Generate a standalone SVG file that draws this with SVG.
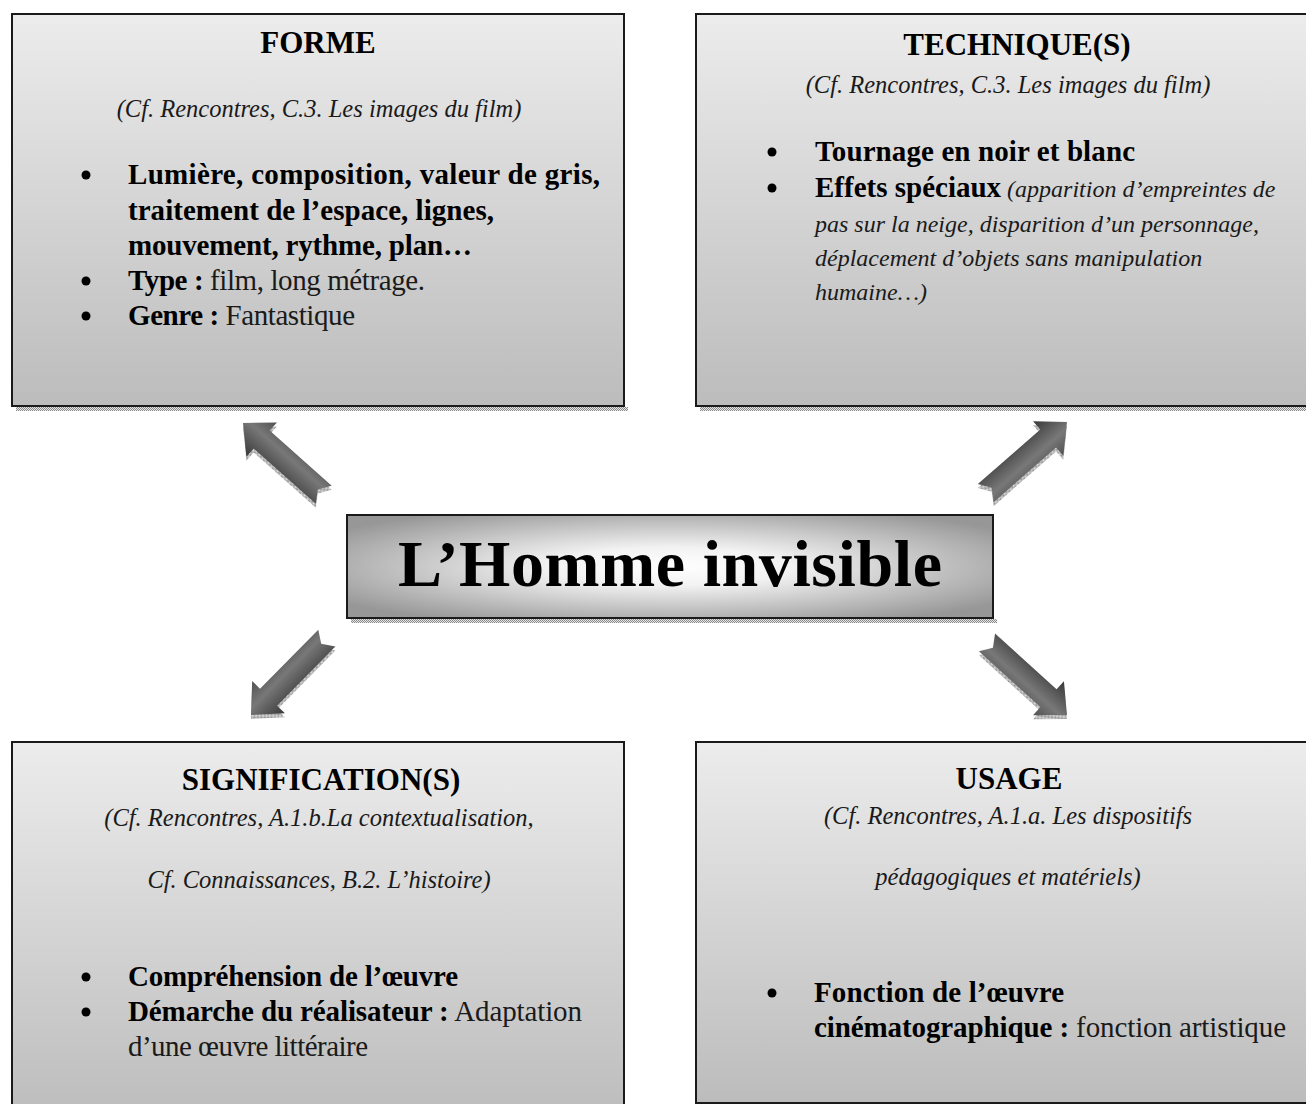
<svg xmlns="http://www.w3.org/2000/svg" width="1306" height="1104" viewBox="0 0 1306 1104">
<defs>
<linearGradient id="boxGrad" x1="0" y1="0" x2="0" y2="1">
<stop offset="0" stop-color="#ececec"/>
<stop offset="1" stop-color="#bcbcbc"/>
</linearGradient>
<radialGradient id="centerGrad" cx="0.5" cy="0.5" r="0.62">
<stop offset="0" stop-color="#ffffff"/>
<stop offset="0.3" stop-color="#f2f2f2"/>
<stop offset="1" stop-color="#979797"/>
</radialGradient>
<linearGradient id="arrowGrad" gradientUnits="userSpaceOnUse" x1="0" y1="-23" x2="0" y2="23">
<stop offset="0" stop-color="#383838"/>
<stop offset="0.6" stop-color="#787878"/>
<stop offset="1" stop-color="#505050"/>
</linearGradient>
<pattern id="stipple" width="2" height="2" patternUnits="userSpaceOnUse">
<rect width="2" height="2" fill="#e6e6e6"/>
<rect width="1" height="1" fill="#8a8a8a"/>
<rect x="1" y="1" width="1" height="1" fill="#8a8a8a"/>
</pattern>
<path id="arrowShape" d="M0,0 L-25,-23 L-25,-12 L-108,-12 L-100,0 L-108,12 L-25,12 L-25,23 Z"/>
</defs>
<style>
.box{fill:url(#boxGrad);stroke:#1a1a1a;stroke-width:2}
.shadow{fill:url(#stipple)}
.title{font-family:"Liberation Serif","Times New Roman",serif;font-weight:bold;font-size:31px;fill:#000;text-anchor:middle}
.ref{font-family:"Liberation Serif","Times New Roman",serif;font-style:italic;font-size:24.5px;fill:#1a1a1a;text-anchor:middle}
.body{font-family:"Liberation Serif","Times New Roman",serif;font-size:29px;fill:#000}
.b{font-weight:bold}
.it{font-style:italic;fill:#1a1a1a;font-size:24px}
.n{fill:#1a1a1a}
.bullet{fill:#000}
.arrow{fill:url(#arrowGrad)}
.arrowShadow{fill:url(#stipple)}
.main{font-family:"Liberation Serif","Times New Roman",serif;font-weight:bold;font-size:66px;fill:#000;text-anchor:middle}
</style>
<rect width="1306" height="1104" fill="#ffffff"/>

<g id="connectors">
<g transform="translate(243,427) rotate(-138.4)"><use href="#arrowShape" class="arrowShadow"/></g>
<g transform="translate(243,423) rotate(-138.4)"><use href="#arrowShape" class="arrow"/></g>
<g transform="translate(1067,426) rotate(-41.2)"><use href="#arrowShape" class="arrowShadow"/></g>
<g transform="translate(1067,422) rotate(-41.2)"><use href="#arrowShape" class="arrow"/></g>
<g transform="translate(251,719) rotate(134.6)"><use href="#arrowShape" class="arrowShadow"/></g>
<g transform="translate(251,715) rotate(134.6)"><use href="#arrowShape" class="arrow"/></g>
<g transform="translate(1067,719) rotate(42.2)"><use href="#arrowShape" class="arrowShadow"/></g>
<g transform="translate(1067,715) rotate(42.2)"><use href="#arrowShape" class="arrow"/></g>
</g>

<g id="forme">
<rect class="shadow" x="16" y="407" width="612" height="4"/>
<rect class="box" x="12" y="14" width="612" height="392"/>
<text class="title" x="318" y="53" font-size="29">FORME</text>
<text class="ref" x="319" y="117">(Cf. Rencontres, C.3. Les images du film)</text>
<circle class="bullet" cx="86" cy="175" r="4.5"/>
<circle class="bullet" cx="86" cy="281" r="4.5"/>
<circle class="bullet" cx="86" cy="316" r="4.5"/>
<text class="body b" x="128" y="184" textLength="472">Lumière, composition, valeur de gris,</text>
<text class="body b" x="128" y="220" textLength="366">traitement de l’espace, lignes,</text>
<text class="body b" x="128" y="255" textLength="344">mouvement, rythme, plan…</text>
<text class="body" x="128" y="290" textLength="297"><tspan class="b">Type :</tspan><tspan class="n"> film, long métrage.</tspan></text>
<text class="body" x="128" y="325" textLength="227"><tspan class="b">Genre :</tspan><tspan class="n"> Fantastique</tspan></text>
</g>

<g id="technique">
<rect class="shadow" x="700" y="407" width="610" height="4"/>
<rect class="box" x="696" y="14" width="616" height="392"/>
<text class="title" x="1017" y="55" font-size="32">TECHNIQUE(S)</text>
<text class="ref" x="1008" y="93">(Cf. Rencontres, C.3. Les images du film)</text>
<circle class="bullet" cx="772" cy="152" r="4.5"/>
<circle class="bullet" cx="772" cy="188" r="4.5"/>
<text class="body b" x="815" y="161" textLength="320">Tournage en noir et blanc</text>
<text class="body" x="815" y="197"><tspan class="b">Effets spéciaux</tspan><tspan class="it"> (apparition d’empreintes de</tspan></text>
<text class="body it" x="815" y="232">pas sur la neige, disparition d’un personnage,</text>
<text class="body it" x="815" y="266">déplacement d’objets sans manipulation</text>
<text class="body it" x="815" y="300">humaine…)</text>
</g>

<g id="center">
<rect class="shadow" x="351" y="619" width="646" height="4"/>
<rect x="347" y="515" width="646" height="103" fill="url(#centerGrad)" stroke="#1a1a1a" stroke-width="2"/>
<text class="main" x="670" y="586" textLength="544">L’Homme invisible</text>
</g>

<g id="signification">
<rect class="box" x="12" y="742" width="612" height="380"/>
<text class="title" x="321" y="790" font-size="32">SIGNIFICATION(S)</text>
<text class="ref" x="319" y="826">(Cf. Rencontres, A.1.b.La contextualisation,</text>
<text class="ref" x="319" y="888">Cf. Connaissances, B.2. L’histoire)</text>
<circle class="bullet" cx="86" cy="977" r="4.5"/>
<circle class="bullet" cx="86" cy="1012" r="4.5"/>
<text class="body b" x="128" y="986" textLength="330">Compréhension de l’œuvre</text>
<text class="body" x="128" y="1021" textLength="454"><tspan class="b">Démarche du réalisateur :</tspan><tspan class="n"> Adaptation</tspan></text>
<text class="body n" x="128" y="1056" textLength="240">d’une œuvre littéraire</text>
</g>

<g id="usage">
<rect class="box" x="696" y="742" width="616" height="361"/>
<text class="title" x="1009" y="789">USAGE</text>
<text class="ref" x="1008" y="824">(Cf. Rencontres, A.1.a. Les dispositifs</text>
<text class="ref" x="1008" y="885">pédagogiques et matériels)</text>
<circle class="bullet" cx="772" cy="993" r="4.5"/>
<text class="body b" x="814" y="1002" textLength="250">Fonction de l’œuvre</text>
<text class="body" x="814" y="1037" textLength="472"><tspan class="b">cinématographique :</tspan><tspan class="n"> fonction artistique</tspan></text>
</g>
</svg>
